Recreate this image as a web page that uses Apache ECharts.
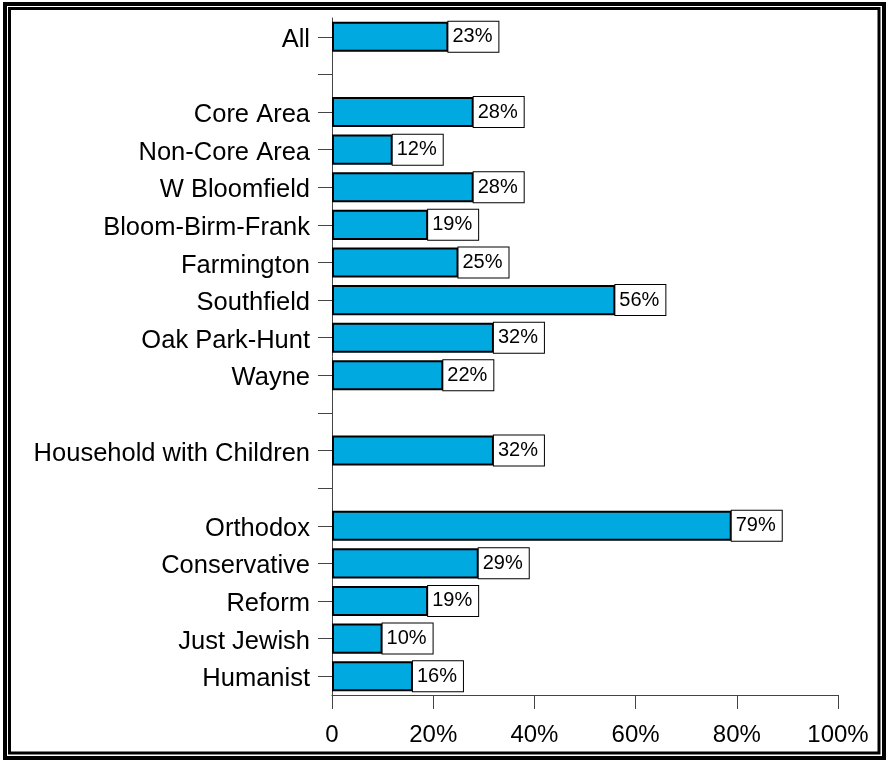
<!DOCTYPE html>
<html><head><meta charset="utf-8">
<script src="https://cdn.jsdelivr.net/npm/echarts@6/dist/echarts.min.js"></script>
<style>html,body{margin:0;padding:0;background:#fff}#c{width:886px;height:760px}</style>
</head><body><div id="c"></div>
<script>
const categories = ['All','','Core Area','Non-Core Area','W Bloomfield','Bloom-Birm-Frank','Farmington','Southfield','Oak Park-Hunt','Wayne','','Household with Children','','Orthodox','Conservative','Reform','Just Jewish','Humanist'];
const values = [23,null,28,12,28,19,25,56,32,22,null,32,null,79,29,19,10,16];
const xTicks = ['0','20%','40%','60%','80%','100%'];

const chart = echarts.init(document.getElementById('c'), null, {renderer:'canvas'});
const font = '"Liberation Sans", Arial, sans-serif';
chart.setOption({
  animation:false,
  backgroundColor:'#fff',
  grid:{left:332,right:48,top:18,bottom:65,containLabel:false},
  xAxis:{type:'value',min:0,max:100,interval:20,
    axisLine:{show:true,lineStyle:{color:'#444',width:1}},
    axisTick:{show:true,length:14,lineStyle:{color:'#444',width:1}},
    splitLine:{show:false},
    axisLabel:{margin:28,fontSize:24,color:'#000',fontFamily:font,
      formatter:(v)=>xTicks[Math.round(v/20)]}},
  yAxis:{type:'category',data:categories,inverse:true,
    axisLine:{show:true,lineStyle:{color:'#444',width:1}},
    axisTick:{show:true,alignWithLabel:true,length:14,lineStyle:{color:'#444',width:1}},
    axisLabel:{margin:22,color:'#000',interval:0,
      formatter:(v)=>'{a|'+v+'}',
      rich:{a:{fontSize:25.5,fontFamily:font,color:'#000',padding:[6,0,0,0]}}}},
  series:[{type:'bar',data:values,barWidth:'80%',
    itemStyle:{color:'#00A9DF',borderColor:'#000',borderWidth:2},
    label:{show:true,position:'right',distance:0,formatter:'{c}%',
      fontSize:20,color:'#000',fontFamily:font,
      backgroundColor:'#fff',borderColor:'#000',borderWidth:1,
      width:45,height:27,lineHeight:31,padding:[3,1,0,4],align:'left'}}],
  graphic:[
    {type:'rect',shape:{x:5,y:4,width:879,height:754},style:{fill:'none',stroke:'#000',lineWidth:4},silent:true},
    {type:'rect',shape:{x:9.5,y:8.5,width:869.5,height:744.5},style:{fill:'none',stroke:'#000',lineWidth:3},silent:true}
  ]
});
</script></body></html>
